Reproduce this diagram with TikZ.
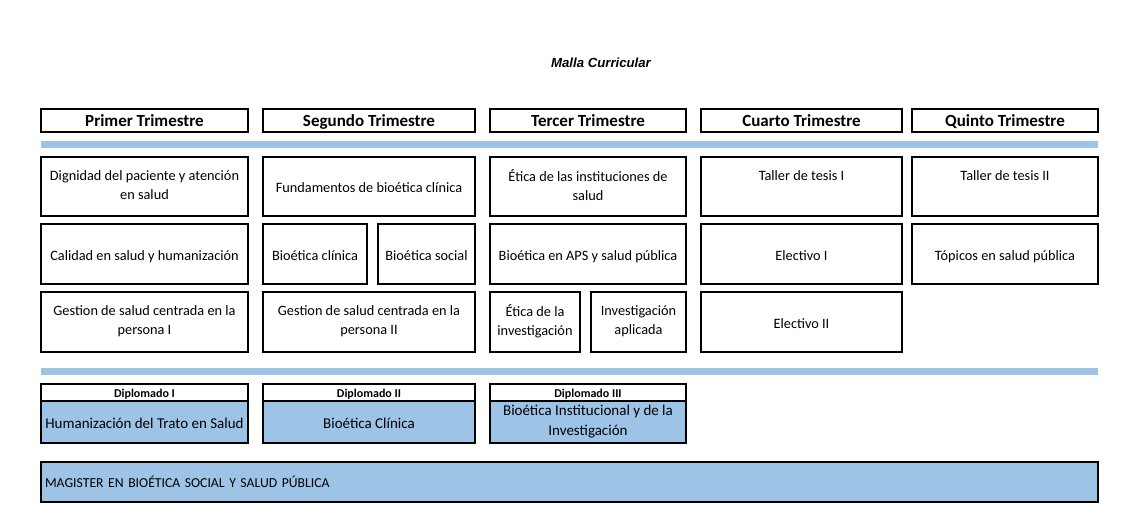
\documentclass[tikz,border=0pt]{standalone}
\usepackage{fontspec}
\setmainfont{Carlito}
\newfontfamily\arialfont{Liberation Sans}
\usetikzlibrary{positioning}
\definecolor{mbar}{HTML}{9DC3E6}
\newcommand\cstrut{\rule[-0.17\baselineskip]{0pt}{\baselineskip}}
\tikzset{cell/.style = {draw, line width = 1.6pt, align = center, inner sep = 0,
                        execute at begin node = \cstrut, execute at end node = \cstrut,
                        font = \fontsize{14.3}{19}\selectfont}}
\tikzset{head/.style = {cell, minimum height = 23,
                        font = \fontsize{17}{19}\selectfont\bfseries}}
\tikzset{dipname/.style = {cell, fill = white, minimum height = 17,
                           font = \fontsize{12}{14}\selectfont\bfseries}}
\tikzset{dipbody/.style = {cell, fill = mbar, minimum height = 42,
                           font = \fontsize{15}{20}\selectfont}}
\tikzset{bar/.style = {fill = mbar, inner sep = 0, minimum height = 7, minimum width = 1057}}
\tikzset{titulo/.style = {inner sep = 0, font = {\fontsize{13.2}{16}\arialfont\bfseries\itshape}}}

\begin{document}
\begin{tikzpicture}[x = 1pt, y = -1pt]
  \useasboundingbox (0, 0) rectangle (1138, 518);
  \node [titulo] (malla) at (601, 62.5) {Malla Curricular};
  % trimestres
  \foreach \nm/\x/\w/\txt in {t1/144.5/207/Primer, t2/369/212/Segundo, t3/588/196/Tercer,
                              t4/801.5/201/Cuarto, t5/1005/186/Quinto} {
    \node [head, minimum width = \w] (\nm) at (\x, 120.5) {\txt{} Trimestre};
  }
  \node [bar] (barra1) at (569.5, 144.5) {};
  % primera fila
  \foreach \nm/\x/\w/\txt in {a1/144.5/207/{Dignidad del paciente y atención\\en salud},
                              a2/369/212/{Fundamentos de bioética clínica},
                              a3/588/196/{Ética de las instituciones de\\salud},
                              a4/801.5/201/{Taller de tesis I\\\phantom{I}},
                              a5/1005/186/{Taller de tesis II\\\phantom{I}}} {
    \node [cell, minimum width = \w, minimum height = 59] (\nm) at (\x, 186.5) {\txt};
  }
  % segunda fila
  \node [cell, minimum width = 207, minimum height = 60] (b1) at (144.5, 254) {Calidad en salud y humanización};
  \node [cell, minimum width = 104, minimum height = 60] (b2) at (315, 254) {Bioética clínica};
  \node [cell, minimum width = 97, minimum height = 60] (b2s) at (426.5, 254) {Bioética social};
  \node [cell, minimum width = 196, minimum height = 60] (b3) at (588, 254) {Bioética en APS y salud pública};
  \node [cell, minimum width = 201, minimum height = 60] (b4) at (801.5, 254) {Electivo I};
  \node [cell, minimum width = 186, minimum height = 60] (b5) at (1005, 254) {Tópicos en salud pública};
  % tercera fila
  \node [cell, minimum width = 207, minimum height = 60] (c1) at (144.5, 322) {Gestion de salud centrada en la\\persona I};
  \node [cell, minimum width = 212, minimum height = 60] (c2) at (369, 322) {Gestion de salud centrada en la\\persona II};
  \node [cell, minimum width = 90, minimum height = 60] (c3) at (535, 322) {Ética de la\\investigación};
  \node [cell, minimum width = 95, minimum height = 60] (c3s) at (638.5, 322) {Investigación\\aplicada};
  \node [cell, minimum width = 201, minimum height = 60] (c4) at (801.5, 322) {Electivo II};
  \node [bar] (barra2) at (569.5, 371.5) {};
  % diplomados
  \foreach \nm/\x/\w/\num/\txt in {d1/144.5/207/I/{Humanización del Trato en Salud},
                                   d2/369/212/II/{Bioética Clínica},
                                   d3/588/196/III/{Bioética Institucional y de la\\Investigación}} {
    \node [dipname, minimum width = \w] (\nm) at (\x, 392.5) {Diplomado \num};
    \node [dipbody, minimum width = \w] (\nm b) at (\x, 422) {\txt};
  }
  \node [cell, fill = mbar, minimum width = 1057, minimum height = 40, text width = 1049,
         align = left, font = \fontsize{13.7}{18}\selectfont] (magister) at (569.5, 482)
        {MAGISTER EN BIOÉTICA SOCIAL Y SALUD PÚBLICA};
\end{tikzpicture}
\end{document}
